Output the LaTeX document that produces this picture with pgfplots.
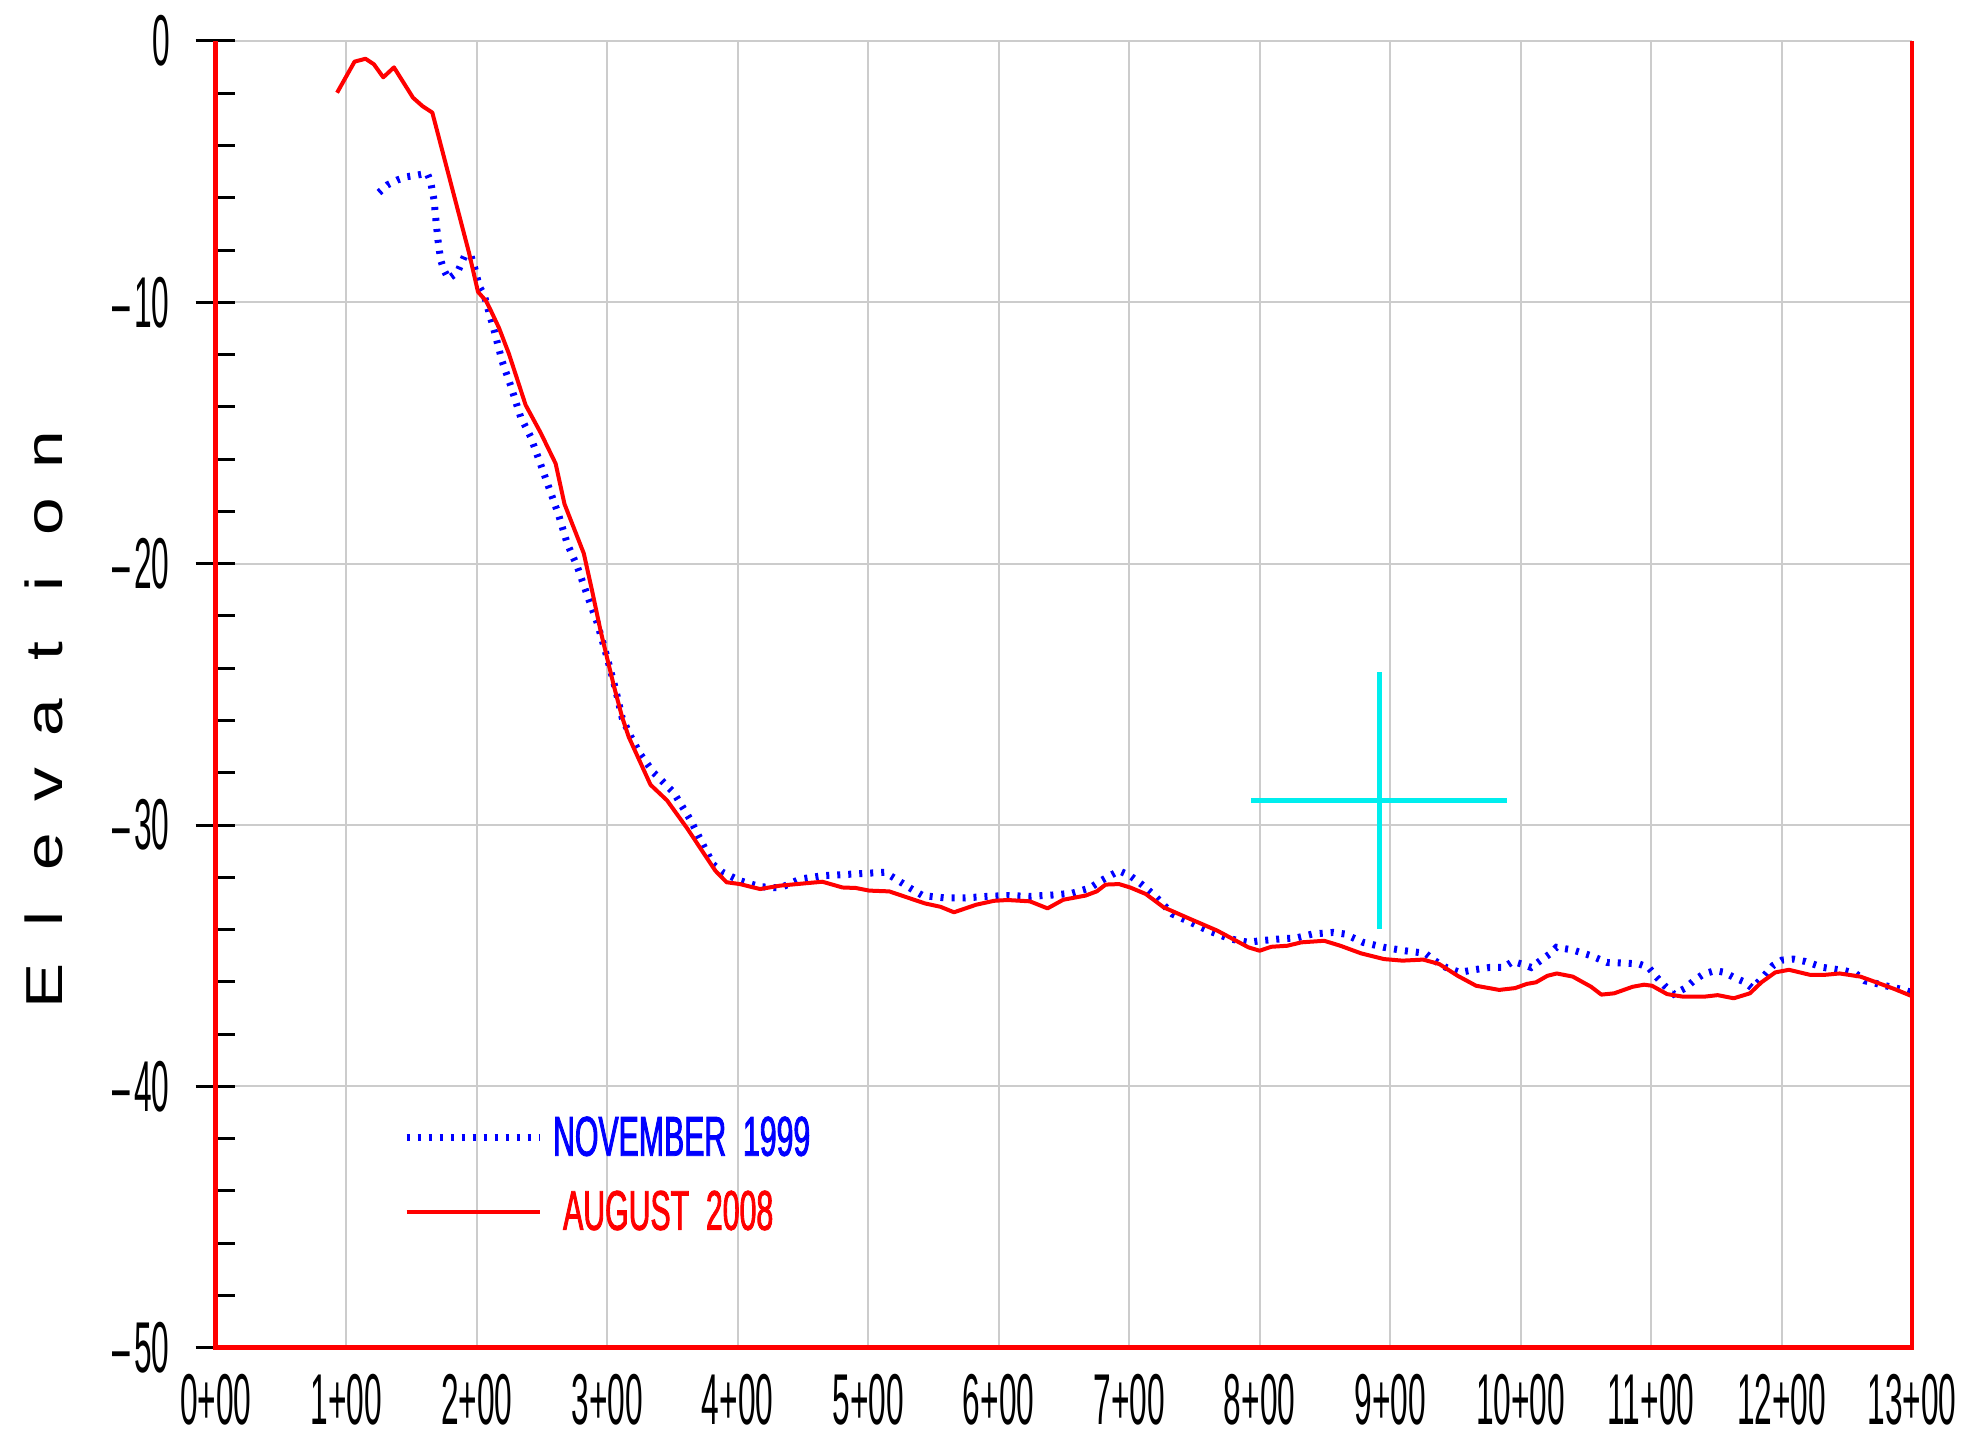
\documentclass[border=0pt]{standalone}
\usepackage{fontspec}
\usepackage{pgfplots}
\pgfplotsset{compat=1.18}
\newfontfamily\tickfont[FakeStretch=0.44]{Liberation Sans}
\newfontfamily\legfont[FakeStretch=0.54,FakeBold=1.5,WordSpace=2]{Liberation Sans}
\newfontfamily\labfont[FakeStretch=1.3]{Liberation Sans}
\definecolor{gridgray}{RGB}{204,204,204}
\definecolor{mycyan}{RGB}{0,238,238}
\newcommand{\mn}{–\hspace{2pt}}
\begin{document}
\begin{tikzpicture}
\begin{axis}[
  scale only axis, width=848pt, height=653.25pt,
  xmin=0, xmax=1300, ymin=-50, ymax=0,
  axis line style={draw=none},
  xtick={0,100,...,1300},
  xticklabels={0+00,1+00,2+00,3+00,4+00,5+00,6+00,7+00,8+00,9+00,10+00,11+00,12+00,13+00},
  ytick={-50,-40,-30,-20,-10,0},
  yticklabels={\mn50,\mn40,\mn30,\mn20,\mn10,0},
  minor y tick num=4,
  ytick pos=left,
  xtick style={draw=none},
  ytick style={black, line width=1.5pt},
  tick align=inside,
  major tick length=19.5pt,
  minor tick length=9.5pt,
  every major tick/.append style={xshift=-10pt},
  grid=major,
  major grid style={draw=gridgray, line width=1pt},
  tick label style={font=\tickfont\fontsize{36}{40}\selectfont},
  yticklabel style={anchor=east, inner sep=0pt, xshift=-22.85pt},
  xticklabel style={anchor=north, inner sep=0pt, yshift=-13pt},
  legend style={draw=none, fill=none, at={(axis cs:143.3,-43.38)}, anchor=west,
    inner sep=0pt, row sep=16pt, font=\legfont\fontsize{28}{30}\selectfont,
    nodes={inner sep=0pt}},
  legend cell align=left,
  legend image code/.code={\draw[#1] (0pt,0pt) -- (66.5pt,0pt);},
  clip=false,
]
\addplot[blue, line width=3.5pt, dash pattern=on 1.5pt off 4pt, line cap=butt] coordinates {
(125.1,-5.80) (131.5,-5.51) (139.1,-5.32) (146.8,-5.19) (154.5,-5.13) (162.1,-5.06)
(164.7,-5.38) (167.3,-6.08) (168.5,-6.72) (170.3,-7.61) (172.4,-8.38) (174.9,-8.76)
(178.3,-9.10) (185.3,-8.85) (190.5,-8.25) (195.5,-8.20) (198.5,-8.70) (202,-9.40)
(205.6,-9.70) (213.3,-11.06) (219.6,-12.27) (226,-13.18) (233.7,-14.39) (241.3,-15.14)
(249,-16.2) (256.6,-17.26) (263,-18.17) (269.4,-19.23) (277,-20.1) (284.7,-21.2)
(292.3,-22.25) (300,-23.6) (306.4,-24.8) (311.5,-25.9) (317.9,-26.6) (325.5,-27.3)
(335.7,-28.0) (351,-28.76) (363.8,-29.8) (381,-31.5) (388,-31.8) (401.7,-32.13)
(417,-32.36) (432.5,-32.41) (447.8,-32.07) (464.9,-31.94) (480.3,-31.9) (497.4,-31.85)
(512.8,-31.81) (521.3,-32.07) (533.3,-32.45) (541.8,-32.70) (558.9,-32.79) (574.3,-32.79)
(591.4,-32.73) (606.8,-32.70) (623.9,-32.73) (641,-32.68) (656.3,-32.61) (670,-32.41)
(678.5,-32.13) (685.4,-31.94) (692.3,-31.75) (700.8,-31.94) (709.3,-32.26) (719.6,-32.70)
(733.3,-33.41) (747,-33.72) (760.6,-34.04) (777.7,-34.36) (791.4,-34.49) (800,-34.43)
(815.3,-34.36) (828.2,-34.32) (840.6,-34.17) (856.4,-34.11) (865.2,-34.17) (879.3,-34.49)
(895.4,-34.68) (911.2,-34.81) (927.1,-34.91) (934.1,-35.19) (942.9,-35.45) (953.5,-35.64)
(964.1,-35.54) (976.4,-35.45) (987,-35.45) (994,-35.22) (1002.8,-35.35) (1008.1,-35.45)
(1015.2,-35.19) (1022.2,-34.94) (1027.5,-34.68) (1039.9,-34.78) (1054,-35.0) (1066.3,-35.26)
(1082.2,-35.29) (1091,-35.32) (1098.1,-35.45) (1103.4,-35.77) (1110.4,-36.15) (1117.5,-36.47)
(1126.3,-36.24) (1133.4,-35.93) (1140.4,-35.70) (1149.2,-35.57) (1156.3,-35.64) (1163.4,-35.83)
(1172.2,-36.02) (1177.5,-36.24) (1184.6,-35.89) (1193.4,-35.38) (1200.4,-35.17) (1209.2,-35.13)
(1218,-35.22) (1232.1,-35.45) (1248,-35.57) (1256.8,-35.68) (1263.9,-35.96) (1279.7,-36.15)
(1293.8,-36.31) (1299.1,-36.40)
};
\addlegendentry{\hspace{5pt}\textcolor{blue}{NOVEMBER 1999}}
\addplot[red, line width=2pt, line join=round] coordinates {
(93,-1.98) (106.4,-0.79) (114.8,-0.68) (121.2,-0.89) (128.4,-1.39) (136.6,-1.01)
(151.2,-2.17) (158.4,-2.49) (166,-2.74) (194.1,-8.10) (201,-9.60) (207.2,-9.95)
(210.7,-10.30) (217.1,-10.98) (224.7,-11.97) (237.5,-13.93) (249,-14.99) (260.5,-16.17)
(267.3,-17.72) (282.1,-19.61) (288.5,-21.05) (294.9,-22.56) (300,-23.62) (305.1,-24.67)
(311.5,-25.88) (316.6,-26.64) (333.2,-28.46) (345.9,-29.06) (361.2,-30.12) (382.9,-31.75)
(391.5,-32.19) (401.7,-32.26) (417.1,-32.45) (432.5,-32.32) (464.9,-32.17) (480.3,-32.39)
(490.6,-32.41) (500.8,-32.51) (516.2,-32.54) (543.5,-33.0) (555.5,-33.13) (565.8,-33.34)
(582.8,-33.05) (596.5,-32.90) (606.8,-32.87) (623.9,-32.92) (637.5,-33.19) (649.5,-32.86)
(666.6,-32.70) (675.2,-32.54) (682,-32.28) (692.3,-32.26) (700.8,-32.39) (712.8,-32.64)
(726.5,-33.15) (747,-33.6) (767.5,-34.04) (791.4,-34.68) (800,-34.81) (808.9,-34.66)
(821.3,-34.62) (831.9,-34.49) (849.5,-34.43) (861.9,-34.62) (877.7,-34.91) (895.4,-35.13)
(909.5,-35.19) (925.4,-35.15) (937.7,-35.32) (951.8,-35.77) (965.9,-36.15) (983.6,-36.31)
(995.9,-36.24) (1004.8,-36.08) (1011.8,-36.02) (1020.6,-35.77) (1027.7,-35.68) (1040,-35.80)
(1054.1,-36.19) (1061.9,-36.49) (1071.8,-36.44) (1085.9,-36.19) (1094.7,-36.11) (1100.7,-36.15)
(1112.3,-36.47) (1124.7,-36.57) (1140.5,-36.57) (1151.1,-36.51) (1163.4,-36.63) (1175.8,-36.44)
(1184.6,-36.02) (1195.2,-35.64) (1205.7,-35.54) (1221.6,-35.73) (1233.9,-35.73) (1244.5,-35.68)
(1260.4,-35.80) (1272.7,-36.02) (1286.8,-36.28) (1300,-36.55)
};
\addlegendentry{\hspace{10pt}\textcolor{red}{AUGUST 2008}}
\addplot[mycyan, line width=2.5pt, forget plot] coordinates {(793.4,-29.07) (989.6,-29.07)};
\addplot[mycyan, line width=2.5pt, forget plot] coordinates {(891.7,-24.16) (891.7,-33.98)};
\node[rotate=90, anchor=center, inner sep=0pt, font=\labfont\fontsize{26}{28}\selectfont]
  at ([xshift=-85.85pt,yshift=-11.75pt]rel axis cs:0,0.5)
  {\makebox[33.5pt]{E}\makebox[33.5pt]{l}\makebox[33.5pt]{e}\makebox[33.5pt]{v}\makebox[33.5pt]{a}\makebox[33.5pt]{t}\makebox[33.5pt]{i}\makebox[33.5pt]{o}\makebox[33.5pt]{n}};
\coordinate (SW) at (rel axis cs:0,0);
\coordinate (NE) at (rel axis cs:1,1);
\coordinate (NW) at (rel axis cs:0,1);
\coordinate (SE) at (rel axis cs:1,0);
\end{axis}
\draw[red, line width=2.3pt] (NW) -- (SW) -- (SE) -- (NE);
\pgfresetboundingbox
\path[use as bounding box] ([shift={(-107.85pt,-45.25pt)}]SW) rectangle ([shift={(30pt,20.5pt)}]NE);
\end{tikzpicture}
\end{document}
